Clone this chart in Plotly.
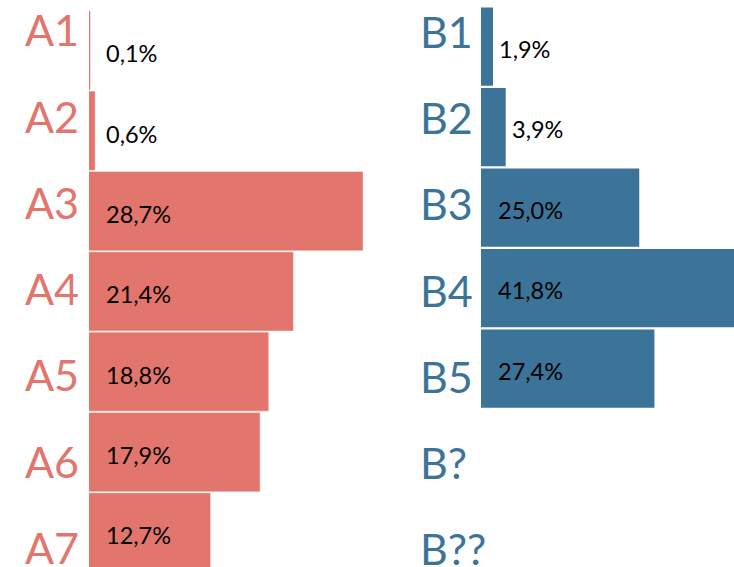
import plotly.graph_objects as go

# ---- data ----
a_categories = ["A1", "A2", "A3", "A4", "A5", "A6", "A7"]
a_values = [0.1, 0.6, 28.7, 21.4, 18.8, 17.9, 12.7]
b_categories = ["B1", "B2", "B3", "B4", "B5", "B?", "B??"]
b_values = [1.9, 3.9, 25.0, 41.8, 27.4, None, None]

RED = "#E2756C"
BLUE = "#3C7398"
FONT = "Lato"
W, H = 734, 567


def fmt(v):
    return f"{v:.1f}".replace(".", ",") + "%"


def label_x(v, pad, gap, fit=8):
    # inside the bar at a fixed padding if it fits, else just right of the bar end
    return pad if v >= fit else max(pad, v + gap)


fig = go.Figure()

fig.add_trace(go.Bar(
    y=a_categories, x=a_values, orientation="h",
    marker=dict(color=RED, line=dict(width=0.6, color=RED)),
    xaxis="x", yaxis="y", hoverinfo="skip", showlegend=False,
))
fig.add_trace(go.Bar(
    y=b_categories, x=b_values, orientation="h",
    marker=dict(color=BLUE, line=dict(width=0)),
    xaxis="x2", yaxis="y2", hoverinfo="skip", showlegend=False,
))

hidden = dict(visible=False, showgrid=False, zeroline=False, fixedrange=True)

annotations = []
# value labels
for c, v in zip(a_categories, a_values):
    annotations.append(dict(
        text=fmt(v), xref="x", yref="y", x=label_x(v, 1.57, 0.5), y=c,
        xanchor="left", yanchor="middle", yshift=-3, showarrow=False,
        font=dict(family=FONT, size=23.5, color="black"),
    ))
for c, v in zip(b_categories, b_values):
    if v is None:
        continue
    annotations.append(dict(
        text=fmt(v), xref="x2", yref="y2", x=label_x(v, 2.37, 0.65), y=c,
        xanchor="left", yanchor="middle", yshift=-2, showarrow=False,
        font=dict(family=FONT, size=23.5, color="black"),
    ))
# category labels on their own (overlaid) label axes
for i, c in enumerate(a_categories):
    annotations.append(dict(
        text=c, xref="paper", x=23 / W, xanchor="left",
        yref="y3", y=i, yanchor="middle", yshift=2, showarrow=False,
        font=dict(family=FONT, size=43, color=RED),
    ))
for i, c in enumerate(b_categories):
    annotations.append(dict(
        text=c, xref="paper", x=418 / W, xanchor="left",
        yref="y4", y=i, yanchor="middle", yshift=2, showarrow=False,
        font=dict(family=FONT, size=43, color=BLUE),
    ))

fig.update_layout(
    width=W, height=H,
    margin=dict(l=0, r=0, t=0, b=0, autoexpand=False),
    paper_bgcolor="white", plot_bgcolor="white",
    bargap=0.027,
    xaxis=dict(hidden, domain=[89 / W, 400 / W], range=[0, 32.63], anchor="y"),
    yaxis=dict(hidden, domain=[0, 1], type="category", categoryarray=a_categories,
               categoryorder="array", range=[6.431, -0.6274], anchor="x"),
    xaxis2=dict(hidden, domain=[481 / W, 1], range=[0, 39.97], anchor="y2"),
    yaxis2=dict(hidden, domain=[0, 1], type="category", categoryarray=b_categories,
                categoryorder="array", range=[6.4634, -0.5801], anchor="x2"),
    yaxis3=dict(hidden, type="linear", range=[6.206, -0.371], overlaying="y", anchor="x"),
    yaxis4=dict(hidden, type="linear", range=[6.189, -0.389], overlaying="y2", anchor="x2"),
    annotations=annotations,
)

fig.write_html(
    "out.html",
    config={"displayModeBar": False},
    post_script="document.body.style.margin='0';document.body.style.overflow='hidden';",
)
